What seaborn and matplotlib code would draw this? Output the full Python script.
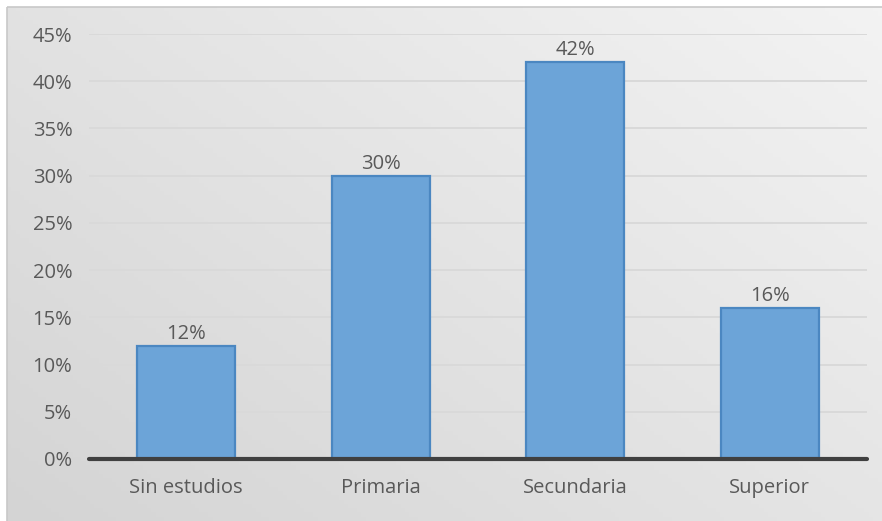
import numpy as np
import matplotlib
matplotlib.use("Agg")
import matplotlib.pyplot as plt
from matplotlib.patches import Rectangle
from matplotlib.colors import LinearSegmentedColormap
import seaborn as sns

# Distribution by education level (percent)
categories = ["Sin estudios", "Primaria", "Secundaria", "Superior"]
values = [12, 30, 42, 16]
y_ticks = [0, 5, 10, 15, 20, 25, 30, 35, 40, 45]

sns.set_theme(style="white")
plt.rcParams["font.family"] = ["Open Sans", "DejaVu Sans"]

W, H, DPI = 882, 521, 100
fig = plt.figure(figsize=(W / DPI, H / DPI), dpi=DPI)
fig.patch.set_facecolor("white")

# Background panel with a soft diagonal gradient
bg = fig.add_axes([0, 0, 1, 1], zorder=0)
bg.set_xlim(0, W)
bg.set_ylim(H, 0)
bg.axis("off")
xx, yy = np.meshgrid(np.linspace(0, 1, 200), np.linspace(0, 1, 120))
grad = 0.55 * (1 - xx) + 0.45 * yy
cmap = LinearSegmentedColormap.from_list("panel", ["#F3F3F3", "#D4D4D4"])
bg.imshow(grad, cmap=cmap, extent=[7, W, H, 7], aspect="auto", zorder=0)
bg.add_patch(Rectangle((7, 7), W, H, fill=False, edgecolor="#C8C8C8", lw=1.2, zorder=1))

ax = fig.add_axes([89 / W, 62 / H, (867 - 89) / W, (459 - 34) / H], zorder=1)
ax.patch.set_alpha(0)

sns.barplot(x=categories, y=values, ax=ax, color="#6CA4D8", saturation=1,
            width=0.505, edgecolor="#4B87C1", linewidth=1.6, zorder=3)

ax.set_xlim(-0.5, 3.5)
ax.set_ylim(0, 45)
ax.set_yticks(y_ticks)
ax.set_yticklabels([f"{t}%" for t in y_ticks])
ax.yaxis.grid(True, color="#D9D9D9", lw=1.4, zorder=0)
ax.set_axisbelow(True)
for s in ["top", "right", "left", "bottom"]:
    ax.spines[s].set_visible(False)
ax.axhline(0, color="#404040", lw=3, zorder=4, clip_on=False)

ax.tick_params(axis="y", length=0, pad=12, labelsize=14.5, labelcolor="#595959")
ax.tick_params(axis="x", length=0, pad=14, labelsize=14.5, labelcolor="#595959")
ax.set_xlabel("")
ax.set_ylabel("")

for i, v in enumerate(values):
    ax.annotate(f"{v}%", (i, v), xytext=(0, 1.5), textcoords="offset points",
                ha="center", va="bottom", fontsize=14.5, color="#595959")

fig.savefig("out.png", dpi=DPI)
